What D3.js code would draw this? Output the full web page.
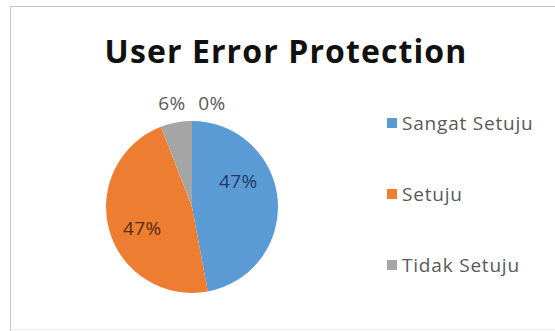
<!DOCTYPE html>
<meta charset="utf-8">
<title>User Error Protection</title>
<script src="https://d3js.org/d3.v7.min.js"></script>
<style>
  body { margin: 0; background: #fff; overflow: hidden; }
  text { font-family: "Open Sans", Lato, sans-serif; }
</style>
<div id="chart"></div>
<script>
// data
var categories = ["Sangat Setuju", "Setuju", "Tidak Setuju", "Sangat Tidak Setuju"];
var values = [8, 8, 1, 0];
var labels = ["47%", "47%", "6%", "0%"];
var colors = ["#5b9bd5", "#ed7d31", "#a5a5a5", "#ffc000"];
var labelColors = ["#1f3b64", "#5a2a0a", "#595959", "#595959"];
var legendItems = ["Sangat Setuju", "Setuju", "Tidak Setuju"];

var width = 555, height = 331;

var svg = d3.select("#chart").append("svg")
  .attr("width", width)
  .attr("height", height)
  .style("display", "block");

// chart frame (only top and left edges are in the picture)
svg.append("path")
  .attr("d", "M10.5," + height + "V6.5H" + width)
  .attr("fill", "none")
  .attr("stroke", "#c4c4c4");
svg.append("path")
  .attr("d", "M10.5,329.5H" + width)
  .attr("fill", "none")
  .attr("stroke", "#ececec");

svg.append("text")
  .attr("x", 286).attr("y", 63)
  .attr("text-anchor", "middle")
  .style("font-size", "32px")
  .style("font-weight", "bold")
  .style("letter-spacing", "1.1px")
  .style("fill", "#111")
  .text("User Error Protection");

var cx = 192, cy = 207, r = 86;

var pie = d3.pie().sort(null).value(function(d) { return d; });
var arcs = pie(values);
var arc = d3.arc().innerRadius(0).outerRadius(r);

var g = svg.append("g").attr("transform", "translate(" + cx + "," + cy + ")");

g.selectAll("path")
  .data(arcs)
  .enter().append("path")
  .attr("d", arc)
  .attr("fill", function(d, i) { return colors[i]; });

// inside labels for the two big slices, outside for the small ones
var inner = d3.arc().innerRadius(r * 0.6).outerRadius(r * 0.6);
var outer = d3.arc().innerRadius(r * 1.2).outerRadius(r * 1.2);

g.selectAll("text.lbl")
  .data(arcs)
  .enter().append("text")
  .attr("class", "lbl")
  .attr("text-anchor", "middle")
  .attr("dy", "0.35em")
  .attr("transform", function(d, i) {
    var p;
    if (i == 0) {
      p = inner.centroid(d); p[0] -= 5; p[1] -= 21;
    } else if (i == 1) {
      p = inner.centroid(d); p[1] += 7;
    } else if (i == 2) {
      p = outer.centroid(d); p[0] -= 1; p[1] -= 2;
    } else {
      p = [20, -104];
    }
    return "translate(" + p + ")";
  })
  .style("font-size", "19px")
  .style("letter-spacing", "0.4px")
  .style("fill", function(d, i) { return labelColors[i]; })
  .text(function(d, i) { return labels[i]; });

// legend
var legend = svg.append("g").attr("transform", "translate(387,0)");
var ly = d3.scalePoint().domain(legendItems).range([123, 265]);

var item = legend.selectAll("g")
  .data(legendItems)
  .enter().append("g")
  .attr("transform", function(d) { return "translate(0," + ly(d) + ")"; });

item.append("rect")
  .attr("x", 0).attr("y", -5)
  .attr("width", 10).attr("height", 10)
  .attr("fill", function(d, i) { return colors[i]; });

item.append("text")
  .attr("x", 15).attr("dy", "0.35em")
  .style("font-size", "19px")
  .style("letter-spacing", "0.8px")
  .style("fill", "#595959")
  .text(function(d) { return d; });
</script>
